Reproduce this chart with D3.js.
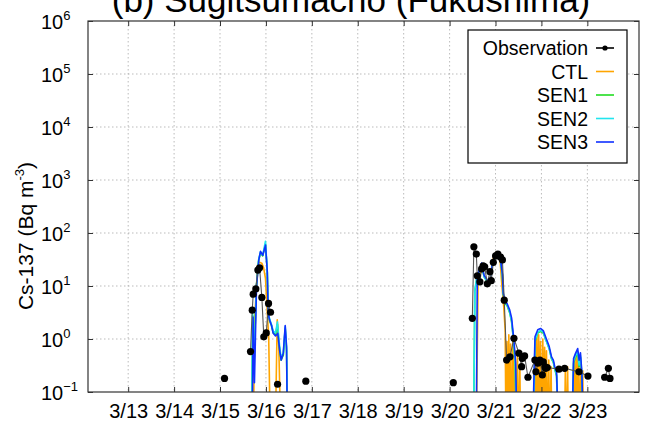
<!DOCTYPE html>
<html>
<head>
<meta charset="utf-8">
<script src="https://cdn.jsdelivr.net/npm/d3@7"></script>
<style>
  body { margin: 0; background: #fff; }
  svg { display: block; font-family: "Liberation Sans", Arial, Helvetica, sans-serif; }
</style>
</head>
<body>
<svg id="chart" width="645" height="427"></svg>
<script>
// Time is expressed as fractional day of March 2011; concentrations in Bq m^-3.
const titleText = "(b) Sugitsumacho (Fukushima)";
const tickDays = [13, 14, 15, 16, 17, 18, 19, 20, 21, 22, 23];
const tickLabels = ["3/13", "3/14", "3/15", "3/16", "3/17", "3/18", "3/19", "3/20", "3/21", "3/22", "3/23"];
const yTickExponents = [-1, 0, 1, 2, 3, 4, 5, 6];

// Hourly observations; null breaks the connecting line where data are missing.
const observation = [
  [15.098, 0.18], null,
  [15.664, 0.58], [15.702, 3.5], [15.723, 7.0], [15.780, 8.8], [15.824, 20], [15.862, 22],
  [15.911, 6.1], [15.954, 1.1], [16.007, 1.3], [16.057, 4.7], [16.100, 3.2], null,
  [16.253, 0.14], null,
  [16.869, 0.16], null,
  [20.081, 0.15], null,
  [20.495, 2.45], [20.529, 55], [20.582, 40], [20.603, 15.6], [20.660, 12], [20.697, 21],
  [20.730, 24], [20.765, 23], [20.821, 11], [20.878, 18.6], [20.908, 12.6], [20.952, 28],
  [21.002, 37], [21.052, 40], [21.111, 35], [21.150, 31], [21.190, 5.4], [21.242, 0.40],
  [21.314, 0.46], [21.401, 1.03], [21.510, 0.54], [21.569, 0.30], [21.584, 0.43], [21.634, 0.48],
  [21.706, 0.19], [21.858, 0.40], [21.880, 0.24], [21.924, 0.35], [21.967, 0.40], [22.020, 0.21],
  [22.041, 0.37], [22.076, 0.30], [22.092, 0.28], [22.128, 0.29], [22.381, 0.27], [22.505, 0.28],
  [22.817, 0.24], [23.013, 0.20], null,
  [23.377, 0.19], [23.458, 0.28], [23.493, 0.18]
];

const ctl = [
  [15.60, 0.01], [15.72, 0.01], [15.76, 2.8], [15.82, 25], [15.86, 28], [15.91, 27], [15.95, 22],
  [15.99, 14], [16.03, 3.1], [16.06, 1.1], [16.10, 0.01], [16.20, 0.01], [16.246, 2.3],
  [16.28, 0.72], [16.33, 0.01],
  [20.58, 0.01], [20.62, 12], [20.70, 22], [20.76, 15], [20.82, 12], [20.88, 13], [20.93, 28],
  [20.98, 40], [21.02, 44], [21.06, 40], [21.10, 30], [21.14, 10], [21.18, 4], [21.21, 1.5],
  [21.23, 0.01], [21.25, 0.9], [21.27, 0.01], [21.29, 1.2], [21.31, 0.02], [21.33, 0.8],
  [21.35, 0.01], [21.38, 1.1], [21.40, 0.02], [21.43, 0.6], [21.45, 0.01], [21.48, 0.5],
  [21.50, 0.01], [21.53, 0.3], [21.55, 0.01],
  [21.84, 0.01], [21.86, 0.8], [21.88, 0.02], [21.90, 1.1], [21.92, 0.02], [21.94, 1.2],
  [21.96, 0.02], [21.98, 0.9], [22.00, 0.02], [22.03, 1.0], [22.05, 0.02], [22.07, 0.7],
  [22.09, 0.02], [22.11, 0.6], [22.13, 0.01], [22.16, 0.4], [22.18, 0.01], [22.21, 0.3],
  [22.23, 0.01],
  [22.50, 0.01], [22.52, 0.25], [22.54, 0.01], [22.57, 0.3], [22.59, 0.01],
  [22.70, 0.01], [22.72, 0.45], [22.74, 0.01], [22.76, 0.55], [22.78, 0.01], [22.80, 0.5],
  [22.82, 0.01], [22.85, 0.4], [22.87, 0.01], [22.90, 0.25], [22.92, 0.01]
];

const sen1 = [
  [15.60, 0.01], [15.69, 0.01], [15.71, 2.8], [15.74, 0.3], [15.79, 9], [15.84, 30], [15.88, 42],
  [15.93, 37], [15.99, 62], [16.03, 18], [16.05, 3.0], [16.08, 2.2], [16.12, 1.8], [16.16, 1.3],
  [16.21, 1.2], [16.25, 1.9], [16.30, 0.6], [16.33, 0.4], [16.38, 0.5], [16.42, 1.6], [16.45, 0.6],
  [16.47, 0.01],
  [20.52, 0.01], [20.55, 8], [20.60, 15], [20.65, 19], [20.70, 25], [20.75, 15], [20.82, 12],
  [20.88, 11], [20.93, 24], [20.97, 30], [21.00, 36], [21.05, 35], [21.11, 30], [21.15, 16],
  [21.17, 6.8], [21.21, 4.6], [21.25, 4.3], [21.31, 3.1], [21.35, 2.1], [21.40, 0.8], [21.43, 0.3],
  [21.46, 0.01],
  [21.82, 0.01], [21.86, 0.9], [21.92, 1.3], [21.98, 1.4], [22.04, 1.3], [22.09, 1.0], [22.17, 0.65],
  [22.22, 0.42], [22.26, 0.36], [22.29, 0.27], [22.33, 0.2], [22.37, 0.01],
  [22.66, 0.01], [22.70, 0.35], [22.74, 0.45], [22.79, 0.55], [22.82, 0.3], [22.85, 0.45],
  [22.88, 0.2], [22.91, 0.01]
];

const sen2 = [
  [15.60, 0.01], [15.69, 0.01], [15.71, 3.0], [15.74, 0.3], [15.79, 9.5], [15.84, 31], [15.88, 44],
  [15.93, 38], [15.99, 70], [16.03, 19], [16.05, 3.2], [16.08, 2.4], [16.12, 1.9], [16.16, 1.4],
  [16.21, 1.3], [16.25, 2.1], [16.30, 0.7], [16.33, 0.45], [16.38, 0.55], [16.42, 1.7], [16.45, 0.65],
  [16.47, 0.01],
  [20.52, 0.01], [20.55, 8.5], [20.60, 16], [20.65, 20], [20.70, 26], [20.75, 15], [20.82, 12],
  [20.88, 11.5], [20.93, 25], [20.97, 31], [21.00, 37], [21.05, 36], [21.11, 30], [21.15, 16],
  [21.17, 7.0], [21.21, 4.8], [21.25, 4.5], [21.31, 3.2], [21.35, 2.2], [21.40, 0.85], [21.43, 0.32],
  [21.46, 0.01],
  [21.82, 0.01], [21.86, 0.95], [21.92, 1.35], [21.98, 1.45], [22.04, 1.35], [22.09, 1.0], [22.17, 0.66],
  [22.22, 0.43], [22.26, 0.37], [22.29, 0.28], [22.33, 0.21], [22.37, 0.01],
  [22.66, 0.01], [22.70, 0.38], [22.74, 0.48], [22.79, 0.58], [22.82, 0.32], [22.85, 0.48],
  [22.88, 0.22], [22.91, 0.01]
];

const sen3 = [
  [15.60, 0.01], [15.70, 0.01], [15.72, 2.6], [15.75, 0.15], [15.795, 9.8], [15.845, 31], [15.882, 45],
  [15.932, 38], [15.991, 59], [16.028, 20], [16.050, 3.1], [16.078, 2.3], [16.122, 1.8], [16.159, 1.28],
  [16.209, 1.14], [16.259, 1.28], [16.303, 0.58], [16.333, 0.40], [16.377, 0.53], [16.420, 1.8],
  [16.449, 0.72], [16.471, 0.01],
  [20.58, 0.01], [20.603, 15], [20.65, 20], [20.697, 27], [20.75, 16], [20.821, 13], [20.878, 12],
  [20.93, 25], [20.97, 31], [21.00, 38], [21.05, 37], [21.11, 31], [21.15, 17], [21.17, 7.2],
  [21.21, 5.0], [21.25, 4.7], [21.31, 3.5], [21.35, 2.5], [21.40, 0.95], [21.44, 0.35], [21.47, 0.01],
  [21.80, 0.01], [21.86, 1.1], [21.92, 1.5], [21.98, 1.58], [22.04, 1.44], [22.09, 1.1], [22.17, 0.72],
  [22.22, 0.46], [22.26, 0.40], [22.29, 0.30], [22.33, 0.24], [22.38, 0.01],
  [22.66, 0.01], [22.70, 0.43], [22.74, 0.53], [22.79, 0.66], [22.82, 0.40], [22.85, 0.55],
  [22.88, 0.24], [22.92, 0.01]
];

const modelNames = ["CTL", "SEN1", "SEN2", "SEN3"];
const modelSeries = [ctl, sen1, sen2, sen3];
const modelColors = ["#ffa500", "#22dd22", "#22e5ee", "#1030ff"];

const plot = { left: 88, right: 639, top: 21, bottom: 392 };

const svg = d3.select("#chart");

const x = d3.scaleLinear().domain([12.125, 24.125]).range([plot.left, plot.right]);
const y = d3.scaleLog().domain([0.1, 1e6]).range([plot.bottom, plot.top]);
const yTicks = yTickExponents.map(e => Math.pow(10, e));

// Title (runs off the top edge)
svg.append("text")
  .attr("x", 351).attr("y", 12)
  .attr("text-anchor", "middle")
  .attr("font-size", 35)
  .attr("fill", "#000")
  .text(titleText);

// Dotted grid
const grid = svg.append("g").attr("stroke", "#aaa").attr("stroke-width", 0.8).attr("stroke-dasharray", "1.5,2.5");
grid.selectAll(".gx").data(tickDays).join("line")
  .attr("x1", d => x(d)).attr("x2", d => x(d))
  .attr("y1", plot.top).attr("y2", plot.bottom);
grid.selectAll(".gy").data(yTicks.slice(1, -1)).join("line")
  .attr("x1", plot.left).attr("x2", plot.right)
  .attr("y1", d => y(d)).attr("y2", d => y(d));

// Model and observation traces, clipped to the plotting frame
svg.append("clipPath").attr("id", "plotClip")
  .append("rect")
  .attr("x", plot.left).attr("y", plot.top)
  .attr("width", plot.right - plot.left).attr("height", plot.bottom - plot.top);

const traces = svg.append("g").attr("clip-path", "url(#plotClip)");
const line = d3.line()
  .defined(d => d !== null)
  .x(d => x(d[0]))
  .y(d => y(d[1]));

modelSeries.forEach((s, i) => {
  traces.append("path")
    .datum(s)
    .attr("fill", "none")
    .attr("stroke", modelColors[i])
    .attr("stroke-width", 1.6)
    .attr("stroke-linejoin", "round")
    .attr("d", line);
});

traces.append("path")
  .datum(observation)
  .attr("fill", "none")
  .attr("stroke", "#555")
  .attr("stroke-width", 1.1)
  .attr("d", line);

traces.selectAll("circle.obs")
  .data(observation.filter(d => d !== null))
  .join("circle")
  .attr("class", "obs")
  .attr("cx", d => x(d[0]))
  .attr("cy", d => y(d[1]))
  .attr("r", 3.6)
  .attr("fill", "#000");

// Axes with inward ticks on all four sides
const axisColor = "#333";
const bottomAxis = svg.append("g")
  .attr("transform", `translate(0,${plot.bottom})`)
  .call(d3.axisBottom(x).tickValues(tickDays).tickSizeInner(-5).tickSizeOuter(0).tickPadding(12)
    .tickFormat((d, i) => tickLabels[i]));
bottomAxis.selectAll("text").attr("font-size", 20).attr("fill", "#000");

svg.append("g")
  .attr("transform", `translate(0,${plot.top})`)
  .call(d3.axisTop(x).tickValues(tickDays).tickSizeInner(-5).tickSizeOuter(0).tickFormat(""));

const leftAxis = svg.append("g")
  .attr("transform", `translate(${plot.left},0)`)
  .call(d3.axisLeft(y).tickValues(yTicks).tickSizeInner(-5).tickSizeOuter(0).tickFormat(""));

svg.append("g")
  .attr("transform", `translate(${plot.right},0)`)
  .call(d3.axisRight(y).tickValues(yTicks).tickSizeInner(-5).tickSizeOuter(0).tickFormat(""));

svg.selectAll(".domain").attr("stroke", "none");
svg.selectAll(".tick line").attr("stroke", axisColor);

// Power-of-ten labels on the left axis: "10" with a raised exponent
leftAxis.selectAll(".tick").each(function (d, i) {
  const t = d3.select(this).append("text")
    .attr("x", -47).attr("y", 7)
    .attr("text-anchor", "start")
    .attr("font-size", 20)
    .attr("fill", "#000");
  t.append("tspan").text("10");
  t.append("tspan")
    .attr("font-size", 13)
    .attr("dy", -9)
    .text(String(yTickExponents[i]).replace("-", "\u2212"));
});

// Frame
svg.append("rect")
  .attr("x", plot.left).attr("y", plot.top)
  .attr("width", plot.right - plot.left).attr("height", plot.bottom - plot.top)
  .attr("fill", "none").attr("stroke", axisColor).attr("stroke-width", 1.2);

// Y-axis title
const yTitle = svg.append("text")
  .attr("transform", "translate(33,236) rotate(-90)")
  .attr("text-anchor", "middle")
  .attr("font-size", 21)
  .attr("fill", "#000");
yTitle.append("tspan").text("Cs-137 (Bq m");
yTitle.append("tspan").attr("font-size", 13).attr("dy", -9).text("-3");
yTitle.append("tspan").attr("dy", 9).text(")");

// Legend
const legend = svg.append("g");
legend.append("rect")
  .attr("x", 468).attr("y", 30).attr("width", 159).attr("height", 133)
  .attr("fill", "#fff").attr("stroke", "#000").attr("stroke-width", 1.2);

const legendNames = ["Observation"].concat(modelNames);
const legendRows = legend.selectAll("g.row").data(legendNames).join("g")
  .attr("class", "row")
  .attr("transform", (d, i) => `translate(0,${48 + i * 23.5})`);
legendRows.append("text")
  .attr("x", 588).attr("y", 7)
  .attr("text-anchor", "end")
  .attr("font-size", 19.5)
  .attr("fill", "#000")
  .text(d => d);
legendRows.append("line")
  .attr("x1", 596).attr("x2", 614).attr("y1", 0).attr("y2", 0)
  .attr("stroke", (d, i) => i === 0 ? "#000" : modelColors[i - 1])
  .attr("stroke-width", 1.6);
legendRows.filter((d, i) => i === 0).append("circle")
  .attr("cx", 605).attr("cy", 0).attr("r", 2.6).attr("fill", "#000");
</script>
</body>
</html>
